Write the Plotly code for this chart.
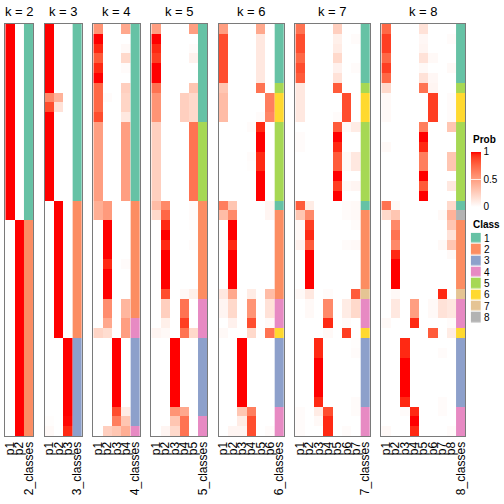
import plotly.graph_objects as go

# ---------------- data ----------------
K_VALUES = [2, 3, 4, 5, 6, 7, 8]
CLASS_LABELS = ["1", "2", "3", "4", "5", "6", "7", "8"]
CLASS_COLORS = ["#66C2A5", "#FC8D62", "#8DA0CB", "#E78AC3",
                "#A6D854", "#FFD92F", "#E5C494", "#B3B3B3"]
PROB_TICKS = [0, 0.5, 1]
PROB_TICK_TEXT = ["0", "0.5", "1"]

CLASS_K2 = [1, 1, 1, 1, 1, 1, 1, 1, 1, 1, 1, 1, 1, 1, 1, 1, 1, 1, 1, 1,
            2, 2, 2, 2, 2, 2, 2, 2, 2, 2, 2, 2, 2, 2, 2, 2, 2, 2, 2, 2, 2, 2]
CLASS_K3 = [1, 1, 1, 1, 1, 1, 1, 1, 1, 1, 1, 1, 1, 1, 1, 1, 1, 1, 2, 2,
            2, 2, 2, 2, 2, 2, 2, 2, 2, 2, 2, 2, 3, 3, 3, 3, 3, 3, 3, 3, 3, 3]
CLASS_K4 = [1, 1, 1, 1, 1, 1, 1, 1, 1, 1, 1, 1, 1, 1, 1, 1, 1, 1, 2, 2,
            2, 2, 2, 2, 2, 2, 2, 2, 2, 2, 4, 4, 3, 3, 3, 3, 3, 3, 3, 3, 3, 4]
CLASS_K5 = [1, 1, 1, 1, 1, 1, 1, 1, 1, 1, 5, 5, 5, 5, 5, 5, 5, 5, 2, 2,
            2, 2, 2, 2, 2, 2, 2, 2, 4, 4, 4, 4, 3, 3, 3, 3, 3, 3, 3, 3, 4, 4]
CLASS_K6 = [1, 1, 1, 1, 1, 1, 5, 6, 6, 6, 5, 5, 5, 5, 5, 5, 5, 5, 1, 2,
            2, 2, 2, 2, 2, 2, 2, 2, 4, 4, 4, 6, 3, 3, 3, 3, 3, 3, 3, 4, 4, 4]
CLASS_K7 = [1, 1, 1, 1, 1, 1, 5, 6, 6, 6, 5, 5, 5, 5, 5, 5, 5, 5, 1, 2,
            2, 2, 2, 2, 2, 2, 2, 7, 4, 4, 4, 6, 3, 3, 3, 3, 3, 3, 3, 4, 4, 4]
CLASS_K8 = [1, 1, 1, 1, 1, 1, 5, 6, 6, 6, 5, 5, 5, 5, 5, 5, 5, 5, 1, 8,
            2, 2, 2, 2, 2, 2, 2, 7, 4, 4, 4, 6, 3, 3, 3, 3, 3, 3, 3, 4, 4, 4]

PROB_K2 = [
    [1, 0], [1, 0], [1, 0], [1, 0], [1, 0], [1, 0], [1, 0], [1, 0], [1, 0], [1, 0],
    [1, 0], [1, 0], [1, 0], [1, 0], [1, 0], [1, 0], [1, 0], [1, 0], [1, 0], [1, 0],
    [0, 1], [0, 1], [0, 1], [0, 1], [0, 1], [0, 1], [0, 1], [0, 1], [0, 1], [0, 1],
    [0, 1], [0, 1], [0, 1], [0, 1], [0, 1], [0, 1], [0, 1], [0, 1], [0, 1], [0, 1],
    [0, 1], [0, 1],
]

PROB_K3 = [
    [1, 0, 0], [1, 0, 0], [1, 0, 0], [1, 0, 0], [1, 0, 0], [1, 0, 0], [1, 0, 0],
    [0.6, 0.4, 0], [0.85, 0.15, 0],
    [1, 0, 0], [1, 0, 0], [1, 0, 0], [1, 0, 0], [1, 0, 0], [1, 0, 0], [1, 0, 0],
    [1, 0, 0], [1, 0, 0],
    [0, 1, 0], [0, 1, 0], [0, 1, 0], [0, 1, 0], [0, 1, 0], [0, 1, 0], [0, 1, 0],
    [0, 1, 0], [0, 1, 0], [0, 1, 0], [0, 1, 0], [0, 1, 0], [0, 1, 0], [0, 1, 0],
    [0, 0, 1], [0, 0, 1], [0, 0, 1], [0, 0, 1], [0, 0, 1], [0, 0, 1], [0, 0, 1],
    [0, 0, 1], [0.01, 0, 0.99], [0.03, 0, 0.95],
]

PROB_K4 = [
    [0.55, 0, 0, 0.45], [1, 0, 0, 0], [0.95, 0, 0, 0.03], [0.8, 0, 0, 0.2],
    [0.95, 0, 0, 0.02], [1, 0, 0, 0], [0.75, 0, 0, 0.25], [0.75, 0.02, 0, 0.22],
    [0.75, 0, 0, 0.22], [0.85, 0, 0, 0.12],
    [0.5, 0, 0, 0.5], [0.5, 0, 0, 0.5], [0.5, 0, 0, 0.5], [0.5, 0, 0, 0.5],
    [0.5, 0, 0, 0.5], [0.5, 0, 0, 0.5], [0.5, 0, 0, 0.5], [0.5, 0, 0, 0.5],
    [0.42, 0.52, 0, 0], [0.42, 0.52, 0, 0],
    [0, 1, 0, 0], [0, 1, 0, 0], [0, 1, 0, 0], [0, 1, 0, 0], [0, 0.95, 0, 0.02],
    [0, 1, 0, 0], [0, 1, 0, 0], [0, 1, 0, 0],
    [0, 0.58, 0, 0.38], [0, 0.58, 0, 0.38], [0, 0.45, 0, 0.5], [0.22, 0.18, 0, 0.5],
    [0, 0, 1, 0], [0, 0, 1, 0], [0, 0, 1, 0], [0, 0, 1, 0], [0, 0, 1, 0],
    [0, 0, 1, 0], [0, 0, 1, 0],
    [0, 0, 0.85, 0.1], [0, 0, 0.65, 0.3], [0, 0.25, 0.3, 0.42],
]

PROB_K5 = [
    [0.5, 0, 0, 0, 0.5], [1, 0, 0, 0, 0], [0.95, 0, 0, 0, 0.02], [0.9, 0, 0, 0, 0.07],
    [1, 0, 0, 0, 0], [1, 0, 0, 0, 0], [0.7, 0, 0, 0, 0.3],
    [0.55, 0, 0, 0.25, 0.2], [0.55, 0, 0, 0.25, 0.2], [0.55, 0, 0, 0.25, 0.2],
    [0.25, 0, 0, 0, 0.7], [0.25, 0, 0, 0, 0.7], [0.25, 0, 0, 0, 0.7], [0.25, 0, 0, 0, 0.7],
    [0.25, 0, 0, 0, 0.7], [0.25, 0, 0, 0, 0.7], [0.25, 0, 0, 0, 0.7], [0.25, 0, 0, 0, 0.7],
    [0.35, 0.6, 0, 0, 0.02], [0.2, 0.75, 0, 0, 0.02],
    [0, 0.95, 0, 0, 0.01], [0, 1, 0, 0, 0], [0, 0.95, 0, 0, 0.02],
    [0, 1, 0, 0, 0], [0, 1, 0, 0, 0], [0, 1, 0, 0, 0], [0, 1, 0, 0, 0],
    [0, 0.85, 0, 0.03, 0.08],
    [0, 0.25, 0, 0.7, 0], [0, 0.25, 0, 0.7, 0], [0, 0.08, 0, 0.9, 0],
    [0.05, 0.03, 0, 0.7, 0.2],
    [0, 0, 1, 0, 0], [0, 0, 1, 0, 0], [0, 0, 1, 0, 0], [0, 0, 1, 0, 0],
    [0, 0, 1, 0, 0], [0, 0, 1, 0, 0], [0, 0, 1, 0, 0],
    [0, 0, 0.55, 0.45, 0], [0, 0, 0.3, 0.7, 0], [0, 0.05, 0.2, 0.7, 0],
]

PROB_K6 = [
    [0.5, 0, 0, 0, 0.45, 0],
    [0.85, 0, 0, 0, 0.12, 0], [0.85, 0, 0, 0, 0.12, 0], [0.85, 0, 0, 0, 0.12, 0],
    [0.85, 0, 0, 0, 0.12, 0], [0.85, 0, 0, 0, 0.12, 0],
    [0.3, 0, 0, 0, 0.7, 0],
    [0.35, 0, 0, 0, 0, 0.65], [0.35, 0, 0, 0, 0, 0.65], [0.35, 0, 0, 0, 0.02, 0.62],
    [0, 0, 0, 0.02, 0.95, 0], [0, 0, 0, 0, 1, 0], [0, 0, 0, 0, 1, 0],
    [0, 0, 0, 0.02, 0.95, 0], [0, 0, 0, 0.01, 0.95, 0], [0, 0, 0, 0, 1, 0],
    [0, 0, 0, 0, 1, 0], [0, 0, 0, 0, 1, 0],
    [0.65, 0.3, 0, 0, 0, 0.05], [0.35, 0.6, 0, 0, 0, 0.05],
    [0, 1, 0, 0, 0, 0], [0.02, 1, 0, 0, 0, 0], [0.02, 0.95, 0, 0, 0, 0],
    [0, 1, 0, 0, 0, 0], [0, 1, 0, 0, 0, 0], [0, 1, 0, 0, 0, 0], [0, 1, 0, 0, 0, 0],
    [0.12, 0.45, 0, 0.1, 0, 0.35],
    [0.05, 0.2, 0, 0.55, 0, 0.15], [0.05, 0.2, 0, 0.55, 0, 0.15],
    [0, 0.07, 0, 0.85, 0, 0.03], [0.03, 0, 0, 0.2, 0, 0.7],
    [0, 0, 1, 0, 0, 0], [0, 0, 1, 0, 0, 0], [0, 0, 1, 0, 0, 0], [0, 0, 1, 0, 0, 0],
    [0, 0, 1, 0, 0, 0], [0, 0, 1, 0, 0, 0], [0, 0, 1, 0, 0, 0],
    [0, 0, 0.3, 0.65, 0, 0], [0, 0, 0.1, 0.85, 0, 0], [0, 0.05, 0.05, 0.85, 0, 0.02],
]

PROB_K7 = [
    [0.7, 0, 0, 0, 0.25, 0, 0], [0.85, 0, 0, 0, 0.08, 0, 0.02],
    [0.85, 0, 0, 0, 0.1, 0, 0], [0.75, 0, 0, 0, 0.2, 0, 0],
    [0.85, 0, 0, 0, 0.07, 0, 0.02], [0.8, 0, 0, 0, 0.15, 0, 0],
    [0.12, 0, 0, 0, 0.8, 0, 0],
    [0.12, 0, 0, 0, 0, 0.85, 0], [0.12, 0, 0, 0, 0, 0.85, 0], [0.12, 0, 0, 0, 0.02, 0.85, 0],
    [0, 0, 0, 0, 0.8, 0.03, 0.1], [0.02, 0, 0, 0, 1, 0, 0], [0.02, 0, 0, 0, 0.95, 0, 0],
    [0, 0, 0, 0, 0.8, 0.03, 0.12], [0, 0, 0, 0, 0.8, 0.03, 0.12], [0, 0, 0, 0, 1, 0, 0],
    [0, 0, 0, 0, 0.9, 0.03, 0.05], [0, 0, 0, 0, 1, 0, 0],
    [0.8, 0.1, 0, 0, 0, 0.02, 0.03], [0.3, 0.6, 0, 0, 0, 0.02, 0.03],
    [0.03, 0.9, 0, 0, 0, 0, 0.02], [0.03, 0.95, 0, 0, 0, 0, 0],
    [0.07, 0.8, 0, 0, 0, 0.02, 0.03],
    [0, 1, 0, 0, 0, 0, 0], [0, 1, 0, 0, 0, 0, 0], [0, 1, 0, 0, 0, 0, 0], [0, 1, 0, 0, 0, 0, 0],
    [0.03, 0.12, 0, 0.02, 0, 0, 0.8],
    [0, 0.03, 0, 0.6, 0, 0.1, 0.2], [0, 0.03, 0, 0.6, 0, 0.1, 0.2],
    [0, 0, 0, 0.95, 0, 0.02, 0], [0, 0, 0, 0.03, 0, 0.9, 0],
    [0, 0, 0.95, 0, 0, 0, 0.01], [0, 0, 0.95, 0, 0, 0, 0.02],
    [0, 0, 1, 0, 0, 0, 0], [0, 0, 1, 0, 0, 0, 0], [0, 0, 1, 0, 0, 0, 0], [0, 0, 1, 0, 0, 0, 0],
    [0, 0, 0.95, 0, 0, 0, 0.02],
    [0.02, 0, 0.1, 0.85, 0, 0, 0.02], [0.02, 0, 0.03, 0.95, 0, 0, 0],
    [0.02, 0, 0, 0.95, 0, 0.02, 0],
]

PROB_K8 = [
    [0.75, 0, 0, 0, 0.15, 0, 0, 0], [0.9, 0, 0, 0, 0.04, 0, 0, 0.02],
    [0.9, 0, 0, 0, 0.05, 0, 0, 0], [0.75, 0, 0, 0, 0.15, 0.03, 0, 0],
    [0.9, 0, 0, 0, 0.03, 0, 0, 0.03], [0.75, 0, 0, 0, 0.15, 0.04, 0, 0],
    [0.2, 0, 0, 0, 0.7, 0.05, 0, 0],
    [0.03, 0, 0, 0, 0, 0.9, 0, 0.02], [0.03, 0, 0, 0, 0, 0.9, 0, 0.02],
    [0.03, 0, 0, 0, 0, 0.9, 0, 0.02],
    [0, 0, 0, 0, 0.65, 0, 0, 0.3], [0, 0, 0, 0, 1, 0, 0, 0], [0.03, 0, 0, 0, 0.95, 0, 0, 0],
    [0, 0, 0, 0, 0.65, 0, 0, 0.3], [0, 0, 0, 0, 0.65, 0, 0, 0.3], [0, 0, 0, 0, 1, 0, 0, 0],
    [0, 0, 0, 0, 0.8, 0, 0, 0.12], [0, 0, 0, 0, 1, 0, 0, 0],
    [0.7, 0.03, 0, 0, 0, 0, 0, 0.2], [0.2, 0.3, 0, 0, 0, 0, 0.03, 0.4],
    [0, 0.6, 0, 0, 0, 0, 0, 0.3], [0, 0.7, 0, 0, 0, 0, 0, 0.15],
    [0, 0.6, 0, 0, 0, 0, 0.03, 0.3], [0, 0.95, 0, 0, 0, 0, 0, 0.03],
    [0, 1, 0, 0, 0, 0, 0, 0], [0, 1, 0, 0, 0, 0, 0, 0], [0, 1, 0, 0, 0, 0, 0, 0],
    [0, 0.03, 0, 0, 0, 0, 0.95, 0],
    [0, 0.12, 0, 0.5, 0, 0.03, 0.15, 0.12], [0, 0.12, 0, 0.5, 0, 0.03, 0.15, 0.12],
    [0.03, 0, 0, 0.95, 0, 0, 0, 0.02], [0, 0, 0, 0, 0, 0.8, 0, 0.1],
    [0, 0, 0.95, 0, 0, 0, 0, 0], [0, 0, 0.95, 0, 0, 0, 0.02, 0],
    [0, 0, 1, 0, 0, 0, 0, 0], [0, 0, 1, 0, 0, 0, 0, 0], [0, 0, 1, 0, 0, 0, 0, 0],
    [0, 0, 1, 0, 0, 0, 0, 0], [0, 0, 0.95, 0, 0, 0, 0.02, 0],
    [0, 0, 0.02, 0.95, 0, 0, 0.02, 0], [0, 0, 0, 1, 0, 0, 0, 0],
    [0.03, 0, 0, 0.95, 0, 0, 0, 0.02],
]

PROBS = [PROB_K2, PROB_K3, PROB_K4, PROB_K5, PROB_K6, PROB_K7, PROB_K8]
CLASSES = [CLASS_K2, CLASS_K3, CLASS_K4, CLASS_K5, CLASS_K6, CLASS_K7, CLASS_K8]

# ---------------- styling helpers ----------------
def _lin(c):
    c = c / 255.0
    return c / 12.92 if c <= 0.04045 else ((c + 0.055) / 1.055) ** 2.4

def _gam(c):
    c = 12.92 * c if c <= 0.0031308 else 1.055 * c ** (1 / 2.4) - 0.055
    return max(0, min(255, round(c * 255)))

WP = (0.95047, 1.0, 1.08883)

def rgb2lab(rgb):
    r, g, b = [_lin(v) for v in rgb]
    x = 0.4124 * r + 0.3576 * g + 0.1805 * b
    y = 0.2126 * r + 0.7152 * g + 0.0722 * b
    z = 0.0193 * r + 0.1192 * g + 0.9505 * b
    def f(t):
        return t ** (1 / 3) if t > 0.008856 else 7.787 * t + 16 / 116
    fx, fy, fz = f(x / WP[0]), f(y / WP[1]), f(z / WP[2])
    return (116 * fy - 16, 500 * (fx - fy), 200 * (fy - fz))

def lab2rgb(lab):
    L, a, b = lab
    fy = (L + 16) / 116
    fx = fy + a / 500
    fz = fy - b / 200
    def finv(t):
        return t ** 3 if t ** 3 > 0.008856 else (t - 16 / 116) / 7.787
    x, y, z = finv(fx) * WP[0], finv(fy) * WP[1], finv(fz) * WP[2]
    r = 3.2406 * x - 1.5372 * y - 0.4986 * z
    g = -0.9689 * x + 1.8758 * y + 0.0415 * z
    bb = 0.0557 * x - 0.2040 * y + 1.0570 * z
    return "rgb(%d,%d,%d)" % (_gam(max(r, 0)), _gam(max(g, 0)), _gam(max(bb, 0)))

lw, lr = rgb2lab((255, 255, 255)), rgb2lab((255, 0, 0))
PROB_SCALE = []
for i in range(21):
    t = i / 20
    PROB_SCALE.append([t, lab2rgb(tuple(lw[j] + (lr[j] - lw[j]) * t for j in range(3)))])

CLASS_SCALE = []
for i, c in enumerate(CLASS_COLORS):
    CLASS_SCALE.append([i / 8, c])
    CLASS_SCALE.append([(i + 1) / 8, c])

# ---------------- layout geometry (px) ----------------
W = H = 504
TOP, BOTTOM = 24, 436
LEFT0, COLW, GAP = 5.3, 9.333, 11.35
FONT = "Liberation Sans, Arial, sans-serif"
BORDER = "#7a7a7a"

def py(v):
    return 1 - v / H

fig = go.Figure()
layout = dict(
    width=W, height=H, margin=dict(l=0, r=0, t=0, b=0, autoexpand=False),
    paper_bgcolor="white", plot_bgcolor="white",
    font=dict(family=FONT, color="black"),
    showlegend=False,
    coloraxis=dict(
        colorscale=PROB_SCALE, cmin=0, cmax=1,
        colorbar=dict(
            x=470.7 / W, xanchor="left", xpad=0,
            y=py(179), yanchor="middle", ypad=0,
            len=55, lenmode="pixels", thickness=10.3, thicknessmode="pixels",
            outlinewidth=0, tickvals=PROB_TICKS, ticktext=PROB_TICK_TEXT,
            ticks="inside", ticklen=10, tickcolor="rgba(255,255,255,0.8)", tickwidth=1,
            tickfont=dict(size=10, family=FONT, color="black"),
        ),
    ),
    coloraxis2=dict(colorscale=CLASS_SCALE, cmin=0.5, cmax=8.5, showscale=False),
    annotations=[],
)

nrow = len(CLASS_K2)
left = LEFT0
for i, k in enumerate(K_VALUES):
    n = i + 1
    xa = "x" if n == 1 else "x%d" % n
    ya = "y" if n == 1 else "y%d" % n
    right = left + (k + 1) * COLW
    fig.add_trace(go.Heatmap(
        z=PROBS[i], x=list(range(k)), y=list(range(nrow)),
        coloraxis="coloraxis", xaxis=xa, yaxis=ya, hoverinfo="skip"))
    fig.add_trace(go.Heatmap(
        z=[[c] for c in CLASSES[i]], x=[k], y=list(range(nrow)),
        coloraxis="coloraxis2", xaxis=xa, yaxis=ya, hoverinfo="skip"))
    ticktext = ["p%d" % (j + 1) for j in range(k)] + ["%d_classes" % k]
    layout["xaxis" if n == 1 else "xaxis%d" % n] = dict(
        domain=[left / W, right / W], range=[-0.5, k + 0.5],
        tickvals=list(range(k + 1)), ticktext=ticktext, tickangle=-90,
        tickfont=dict(size=12, family=FONT, color="black"), ticks="",
        showgrid=False, zeroline=False, showline=True, mirror=True,
        linecolor=BORDER, linewidth=1, anchor=ya, fixedrange=True)
    layout["yaxis" if n == 1 else "yaxis%d" % n] = dict(
        domain=[py(BOTTOM), py(TOP)], range=[nrow - 0.5, -0.5],
        showticklabels=False, ticks="", showgrid=False, zeroline=False,
        showline=True, mirror=True, linecolor=BORDER, linewidth=1,
        anchor=xa, fixedrange=True)
    layout["annotations"].append(dict(
        text="k = %d" % k, x=(left + right) / 2 / W, y=py(11.5),
        xref="paper", yref="paper", xanchor="center", yanchor="middle",
        showarrow=False, font=dict(size=13, family=FONT, color="black")))
    left = right + GAP

# class legend drawn as a small heatmap
n = len(K_VALUES) + 1
fig.add_trace(go.Heatmap(
    z=[[j + 1] for j in range(len(CLASS_LABELS))], x=[0],
    y=list(range(len(CLASS_LABELS))), coloraxis="coloraxis2",
    xaxis="x%d" % n, yaxis="y%d" % n, ygap=1.3, hoverinfo="skip"))
KEY_TOP, KEY_STEP, KEY_H = 233.3, 11.33, 10.0
key_bottom = KEY_TOP + (len(CLASS_LABELS) - 1) * KEY_STEP + KEY_H + 0.66
layout["xaxis%d" % n] = dict(
    domain=[470.7 / W, 481 / W], range=[-0.5, 0.5], visible=False,
    anchor="y%d" % n, fixedrange=True)
layout["yaxis%d" % n] = dict(
    domain=[py(key_bottom), py(KEY_TOP - 0.66)],
    range=[len(CLASS_LABELS) - 0.5, -0.5], side="right",
    tickvals=list(range(len(CLASS_LABELS))), ticktext=CLASS_LABELS,
    tickfont=dict(size=10, family=FONT, color="black"), ticks="",
    ticklabelstandoff=2,
    showgrid=False, zeroline=False, showline=False,
    anchor="x%d" % n, fixedrange=True)

layout["annotations"].append(dict(
    text="<b>Prob</b>", x=470.7 / W, y=py(139.5), xref="paper", yref="paper",
    xanchor="left", yanchor="middle", showarrow=False,
    font=dict(size=10, family=FONT, color="black")))
layout["annotations"].append(dict(
    text="<b>Class</b>", x=470.7 / W, y=py(224.5), xref="paper", yref="paper",
    xanchor="left", yanchor="middle", showarrow=False,
    font=dict(size=10, family=FONT, color="black")))

fig.update_layout(**layout)
fig.write_html(
    "out.html",
    config={"displayModeBar": False},
    post_script="document.body.style.margin='0';document.body.style.overflow='hidden';",
)
